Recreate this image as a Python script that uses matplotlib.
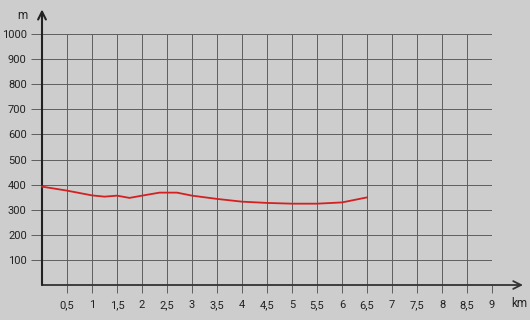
import matplotlib.pyplot as plt
from matplotlib.ticker import FixedLocator

# profil de la randonnee
dist_km = [0, 0.5, 1, 1.25, 1.5, 1.75, 2, 2.35, 2.7, 3, 3.5, 4, 4.5, 5, 5.5, 6, 6.5]
alt_m = [392, 376, 357, 352, 356, 347, 356, 368, 368, 356, 343, 332, 327, 324, 324, 329, 349]

x_ticks = [0.5, 1, 1.5, 2, 2.5, 3, 3.5, 4, 4.5, 5, 5.5, 6, 6.5, 7, 7.5, 8, 8.5, 9]
y_ticks = [100, 200, 300, 400, 500, 600, 700, 800, 900, 1000]

plt.rcParams['font.family'] = ['Roboto', 'DejaVu Sans']
bg = '#cdcdcd'

fig = plt.figure(figsize=(5.3, 3.2), dpi=100, facecolor=bg)
ax = fig.add_axes([42 / 530, 35 / 320, 450 / 530, 251 / 320], facecolor=bg)

ax.set_xlim(0, 9)
ax.set_ylim(0, 1000)

# grille
for x in x_ticks:
    ax.plot([x, x], [0, 1000], color='#5e5e5e', lw=0.7, zorder=1)
for y in y_ticks:
    ax.plot([0, 9], [y, y], color='#5e5e5e', lw=0.7, zorder=1)

ax.xaxis.set_major_locator(FixedLocator(x_ticks))
ax.yaxis.set_major_locator(FixedLocator(y_ticks))
ax.set_xticklabels([('%g' % v).replace('.', ',') for v in x_ticks])
ax.set_yticklabels([str(v) for v in y_ticks])
ax.tick_params(axis='both', length=6, width=0.7, color='#5e5e5e',
               labelsize=8, labelcolor='#222222', pad=5)
ax.tick_params(axis='y', length=8, pad=3)

for s in ax.spines.values():
    s.set_visible(False)

# axes avec fleches
ax.annotate('', xy=(9.62, 0), xytext=(0, 0), annotation_clip=False,
            arrowprops=dict(arrowstyle='->', color='#333333', lw=1.3,
                            mutation_scale=14, shrinkA=0, shrinkB=0), zorder=3)
ax.annotate('', xy=(0, 1098), xytext=(0, 0), annotation_clip=False,
            arrowprops=dict(arrowstyle='->', color='#222222', lw=1.5,
                            mutation_scale=14, shrinkA=0, shrinkB=0), zorder=3)

ax.text(9.55, -73, 'km', fontsize=8.5, color='#222222', ha='center', va='center')
ax.text(-0.39, 1072, 'm', fontsize=8.5, color='#222222', ha='center', va='center')

ax.plot(dist_km, alt_m, color='#d42020', lw=1.3, zorder=4, clip_on=False)

fig.savefig('out.png', dpi=100, facecolor=bg)
